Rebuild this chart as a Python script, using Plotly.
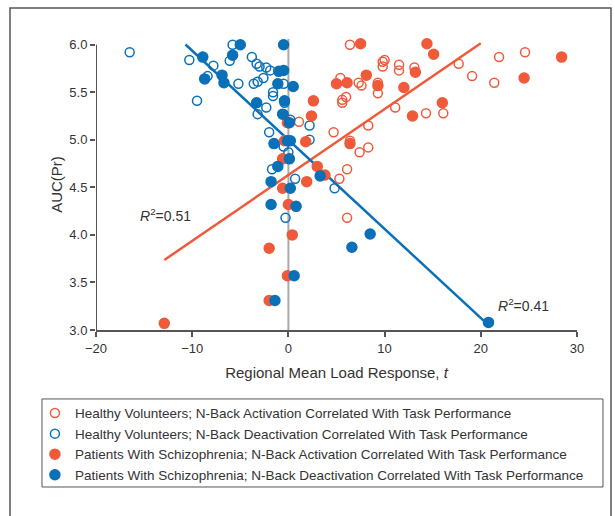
import plotly.graph_objects as go

# Healthy volunteers, activation (open red)
hv_act_x = [6.4, 9.8, 10.0, 9.8, 11.5, 11.5, 13.1, 5.4, 7.3, 7.6, 9.3, 9.3, 6.0, 5.6, 5.6, 11.1,
            1.1, 8.3, 4.7, 6.4, 8.3, 7.4, 6.1, 5.3, 6.1, 17.7, 21.9, 24.6, 19.1, 21.4, 14.3, 16.1]
hv_act_y = [6.0, 5.82, 5.84, 5.77, 5.79, 5.73, 5.76, 5.65, 5.6, 5.57, 5.6, 5.49, 5.45, 5.42, 5.39, 5.34,
            5.19, 5.15, 5.08, 4.99, 4.92, 4.87, 4.69, 4.59, 4.18, 5.8, 5.87, 5.92, 5.67, 5.6, 5.28, 5.28]

# Healthy volunteers, deactivation (open blue)
hv_deact_x = [-16.5, -10.3, -9.5, -7.8, -5.8, -6.1, -3.8, -3.3, -3.0, -2.3, -1.9, -8.4, -5.2, -3.6,
              -3.2, -2.6, -0.5, -1.6, -1.6, -0.4, -2.3, -3.2, -0.5, 0.2, -2.0, -0.5, 0.0, -1.7, 0.7,
              2.2, 2.2, -0.3, 4.8]
hv_deact_y = [5.92, 5.84, 5.41, 5.78, 6.0, 5.83, 5.87, 5.8, 5.77, 5.76, 5.73, 5.67, 5.59, 5.59,
              5.61, 5.65, 5.59, 5.5, 5.46, 5.39, 5.34, 5.27, 5.27, 5.21, 5.08, 4.93, 4.87, 4.69, 4.59,
              5.15, 5.0, 4.18, 4.49]

# Patients, activation (filled red)
sz_act_x = [7.5, 8.1, 5.0, 6.1, 9.3, 2.6, 2.4, 1.8, 6.4, 3.0, 3.8, 1.9, 14.4, 15.1, 13.2, 12.0, 16.0,
            12.9, 24.5, 28.4, -0.1, -0.4, -0.6, -0.6, 0.0, 0.4, -2.0, -0.1, -2.0, -12.9]
sz_act_y = [6.01, 5.68, 5.59, 5.6, 5.57, 5.41, 5.25, 4.98, 4.96, 4.72, 4.63, 4.56, 6.01, 5.9, 5.71, 5.55,
            5.39, 5.25, 5.65, 5.87, 5.18, 4.99, 4.8, 4.49, 4.32, 4.0, 3.86, 3.57, 3.31, 3.07]

# Patients, deactivation (filled blue)
sz_deact_x = [-5.0, -0.5, -8.9, -5.8, -6.9, -8.7, -6.7, -1.0, -0.5, -1.1, 0.5, -3.3, -0.4, -0.6, 0.1,
              -1.5, -0.1, 0.2, 0.1, -1.1, -1.8, 0.2, -1.8, 0.8, 0.6, -1.4, 3.3, 8.5, 6.6, 20.8]
sz_deact_y = [6.0, 6.0, 5.87, 5.89, 5.68, 5.64, 5.6, 5.72, 5.73, 5.59, 5.56, 5.39, 5.41, 5.27, 5.18,
              4.96, 4.99, 4.99, 4.8, 4.72, 4.56, 4.49, 4.32, 4.3, 3.57, 3.31, 4.62, 4.01, 3.87, 3.08]

# Fit lines (slope, intercept, x-extent)
act_fit = {"slope": 0.0693, "intercept": 4.63, "x": [-12.9, 20.0]}
deact_fit = {"slope": -0.0937, "intercept": 5.0, "x": [-10.7, 20.8]}

legend_names = [
    "Healthy Volunteers; N-Back Activation Correlated With Task Performance",
    "Healthy Volunteers; N-Back Deactivation Correlated With Task Performance",
    "Patients With Schizophrenia; N-Back Activation Correlated With Task Performance",
    "Patients With Schizophrenia; N-Back Deactivation Correlated With Task Performance",
]

RED = "#EF5A3A"
BLUE = "#0A70B8"
FONT = "Liberation Sans Narrow, Liberation Sans, Arial, sans-serif"

fig = go.Figure()

def fit_line(f):
    return [f["slope"] * x + f["intercept"] for x in f["x"]]

fig.add_trace(go.Scatter(x=act_fit["x"], y=fit_line(act_fit), mode="lines",
                         line=dict(color=RED, width=2.5), showlegend=False, hoverinfo="skip"))
fig.add_trace(go.Scatter(x=deact_fit["x"], y=fit_line(deact_fit), mode="lines",
                         line=dict(color=BLUE, width=2.5), showlegend=False, hoverinfo="skip"))

series = [
    (hv_act_x, hv_act_y, RED, "circle-open"),
    (hv_deact_x, hv_deact_y, BLUE, "circle-open"),
    (sz_act_x, sz_act_y, RED, "circle"),
    (sz_deact_x, sz_deact_y, BLUE, "circle"),
]
for (xs, ys, col, sym), name in zip(series, legend_names):
    fig.add_trace(go.Scatter(
        x=xs, y=ys, mode="markers", name=name, cliponaxis=False,
        marker=dict(symbol=sym, size=10 if sym == "circle" else 9, color=col,
                    line=dict(color=col, width=1.5)),
    ))

# zero line
fig.add_shape(type="line", xref="x", yref="y", x0=0, x1=0, y0=3.0, y1=6.06,
              line=dict(color="#AAAAAA", width=2), layer="below")
# y axis line (only up to 6.0)
fig.add_shape(type="line", xref="x", yref="y", x0=-20, x1=-20, y0=3.0, y1=6.0,
              line=dict(color="#555555", width=2))
# legend box
fig.add_shape(type="rect", xref="paper", yref="paper", x0=-0.1123, x1=1.054, y0=-0.237, y1=-0.5395,
              line=dict(color="#555555", width=1))
# outer frame
fig.add_shape(type="rect", xref="paper", yref="paper", x0=-0.1788, x1=1.0707, y0=1.1065, y1=-0.66,
              line=dict(color="#555555", width=1.5))

fig.add_annotation(x=-12.75, y=4.21, text="<i>R</i><sup>2</sup>=0.51", showarrow=False,
                   font=dict(family=FONT, size=14, color="#333333"))
fig.add_annotation(x=24.4, y=3.26, text="<i>R</i><sup>2</sup>=0.41", showarrow=False,
                   font=dict(family=FONT, size=14, color="#333333"))

fig.update_layout(
    width=615, height=516,
    margin=dict(l=96, r=38, t=39, b=186),
    paper_bgcolor="white", plot_bgcolor="white",
    font=dict(family=FONT, size=13, color="#333333"),
    xaxis=dict(range=[-20, 30], tickvals=[-20, -10, 0, 10, 20, 30],
               ticktext=["\u221220", "\u221210", "0", "10", "20", "30"],
               showgrid=False, zeroline=False, showline=True, linecolor="#555555", linewidth=2,
               ticks="outside", ticklen=5, tickcolor="#555555", tickwidth=1.5,
               tickfont=dict(size=13),
               title=dict(text="Regional Mean Load Response, <i>t</i>", font=dict(size=15), standoff=13)),
    yaxis=dict(range=[3.0, 6.06], tickvals=[3.0, 3.5, 4.0, 4.5, 5.0, 5.5, 6.0],
               ticktext=["3.0", "3.5", "4.0", "4.5", "5.0", "5.5", "6.0"],
               showgrid=False, zeroline=False, showline=False,
               ticks="outside", ticklen=5, tickcolor="#555555", tickwidth=1.5,
               tickfont=dict(size=13),
               title=dict(text="AUC(Pr)", font=dict(size=15), standoff=3)),
    legend=dict(x=-0.127, y=-0.233, xanchor="left", yanchor="top",
                font=dict(size=13.5), bgcolor="rgba(0,0,0,0)", borderwidth=0,
                itemwidth=30, tracegroupgap=0),
    showlegend=True,
)

fig.write_html("out.html")
